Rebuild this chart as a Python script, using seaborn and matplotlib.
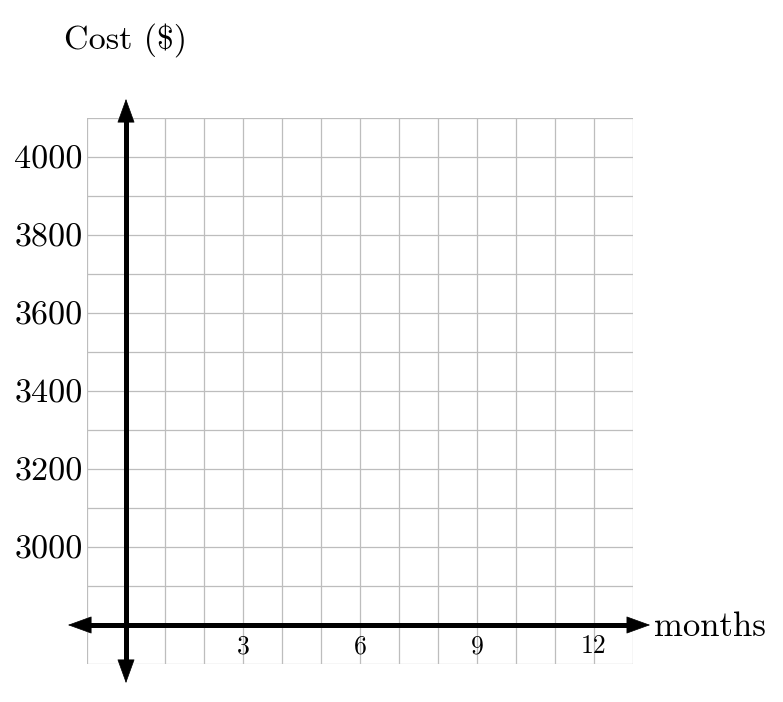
import matplotlib
matplotlib.use('Agg')
import matplotlib.pyplot as plt
from matplotlib.ticker import MultipleLocator
import seaborn as sns

# Axis setup (empty grid for plotting cost vs months)
x_ticks = [3, 6, 9, 12]
y_ticks = [3000, 3200, 3400, 3600, 3800, 4000]
x_range = [-1, 13]
y_range = [2700, 4100]
x_label = 'months'
y_label = 'Cost ($)'

sns.set_theme(style='white')
plt.rcParams['font.family'] = ['cmr10', 'DejaVu Serif']
plt.rcParams['mathtext.fontset'] = 'cm'
plt.rcParams['axes.unicode_minus'] = False
plt.rcParams['text.color'] = 'black'
plt.rcParams['xtick.color'] = 'black'
plt.rcParams['ytick.color'] = 'black'

fig = plt.figure(figsize=(7.83, 7.02), dpi=100)
ax = fig.add_axes([87 / 783, 38 / 702, 546 / 783, 546 / 702])
ax.set_xlim(x_range)
ax.set_ylim(y_range)

ax.xaxis.set_minor_locator(MultipleLocator(1))
ax.yaxis.set_minor_locator(MultipleLocator(100))
ax.set_xticks(x_ticks)
ax.set_yticks(y_ticks)
ax.grid(True, which='both', color='#bdbdbd', linewidth=0.9)
ax.set_axisbelow(True)

# x tick labels sit just below the x-axis line
ax.spines['bottom'].set_position(('data', 2800))
for s in ax.spines.values():
    s.set_linewidth(0)
ax.tick_params(axis='x', which='both', length=0, pad=7, labelsize=18.5)
ax.tick_params(axis='y', which='both', length=0, pad=3, labelsize=24.5)

# axes lines with arrow heads
ax.plot([-1.1, 13.1], [2800, 2800], color='black', lw=3.6,
        solid_capstyle='butt', clip_on=False)
ax.plot([0, 0], [2690, 4110], color='black', lw=3.6,
        solid_capstyle='butt', clip_on=False)
heads = dict(arrowstyle='<|-|>,head_length=0.8,head_width=0.29', lw=0.5,
             color='black', mutation_scale=20, shrinkA=0, shrinkB=0)
ax.annotate('', xy=(13.44, 2800), xytext=(-1.49, 2800), arrowprops=heads,
            annotation_clip=False)
ax.annotate('', xy=(0, 4149), xytext=(0, 2651), arrowprops=heads,
            annotation_clip=False)

ax.text(13.55, 2794, x_label, fontsize=25, ha='left', va='center', clip_on=False)
ax.text(-1.6, 4300, y_label.replace('$', r'\$'), fontsize=24.5, ha='left',
        va='center', clip_on=False)

fig.savefig('out.png', dpi=100)
